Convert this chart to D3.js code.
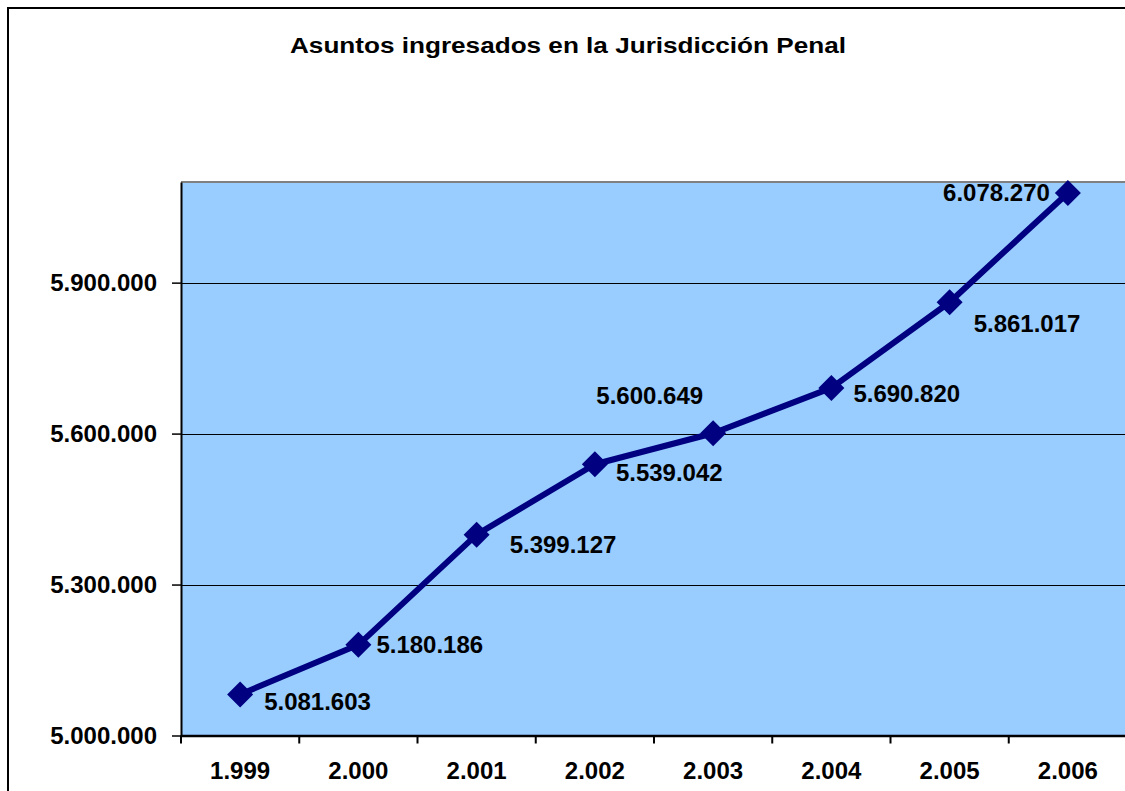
<!DOCTYPE html>
<html>
<head>
<meta charset="utf-8">
<script src="https://cdn.jsdelivr.net/npm/d3@7"></script>
<style>
  html, body { margin: 0; padding: 0; background: #fff; }
  svg { display: block; }
  text { font-family: "Liberation Sans", Arial, sans-serif; font-weight: bold; fill: #000; }
</style>
</head>
<body>
<svg id="chart" width="1125" height="791"></svg>
<script>
// ---- data ----
const title = "Asuntos ingresados en la Jurisdicción Penal";
const categories = ["1.999", "2.000", "2.001", "2.002", "2.003", "2.004", "2.005", "2.006"];
const values = [5081603, 5180186, 5399127, 5539042, 5600649, 5690820, 5861017, 6078270];
const yTicks = [5000000, 5300000, 5600000, 5900000];
const yDomain = [5000000, 6100000];
// label placement relative to each point: [dx, dy, anchor]
const labelPlacement = [
  [24, 7, "start"], [18, 0, "start"], [33, 10, "start"], [21, 8, "start"],
  [-10, -38, "end"], [22, 5, "start"], [24, 21, "start"], [-18, -1, "end"]
];

// ---- layout ----
const svg = d3.select("#chart");
const plot = { left: 181, top: 182, right: 1127, bottom: 735.5 };

const x = d3.scaleBand().domain(categories).range([plot.left, plot.right]).padding(0);
const y = d3.scaleLinear().domain(yDomain).range([plot.bottom, plot.top]);
const loc = d3.formatLocale({ decimal: ",", thousands: ".", grouping: [3], currency: ["", ""] });
const fmt = loc.format(",");

// outer border
svg.append("rect").attr("x", 8).attr("y", 8).attr("width", 1140).attr("height", 800)
  .attr("fill", "#fff").attr("stroke", "#000").attr("stroke-width", 2);

// title
svg.append("text").attr("x", 290).attr("y", 53).attr("text-anchor", "start")
  .attr("textLength", 556).attr("lengthAdjust", "spacingAndGlyphs")
  .style("font-size", "22px").text(title);

// plot background
svg.append("rect").attr("x", plot.left).attr("y", plot.top)
  .attr("width", plot.right - plot.left).attr("height", plot.bottom - plot.top)
  .attr("fill", "#99CCFF");

// top border (grey)
svg.append("line").attr("x1", plot.left).attr("x2", plot.right)
  .attr("y1", y(yDomain[1])).attr("y2", y(yDomain[1]))
  .attr("stroke", "#808080").attr("stroke-width", 2);

// gridlines
svg.append("g").selectAll("line").data(yTicks.slice(1)).join("line")
  .attr("x1", plot.left).attr("x2", plot.right)
  .attr("y1", d => Math.round(y(d)) + 0.5).attr("y2", d => Math.round(y(d)) + 0.5)
  .attr("stroke", "#000").attr("stroke-width", 1.2);

// y axis
const yAxis = svg.append("g").attr("transform", `translate(${plot.left},0)`)
  .call(d3.axisLeft(y).tickValues(yTicks).tickFormat(fmt).tickSize(9).tickPadding(15).tickSizeOuter(0));
yAxis.select(".domain").attr("stroke", "#000").attr("stroke-width", 2);
yAxis.selectAll(".tick line").attr("stroke", "#000").attr("stroke-width", 1.5);
yAxis.selectAll(".tick text").style("font-size", "24px")
  .attr("fill", "#000").attr("font-family", null);

// x axis
const xAxis = svg.append("g").attr("transform", `translate(0,${plot.bottom})`)
  .call(d3.axisBottom(x).tickSize(0).tickPadding(26).tickSizeOuter(0));
xAxis.select(".domain").attr("stroke", "#000").attr("stroke-width", 2.5);
xAxis.selectAll(".tick text").style("font-size", "24px")
  .attr("fill", "#000").attr("font-family", null);
xAxis.selectAll(".tick line").remove();
// tick marks at band boundaries
const edges = categories.map(c => x(c)).concat([x(categories[categories.length - 1]) + x.bandwidth()]);
xAxis.append("g").selectAll("line").data(edges).join("line")
  .attr("x1", d => d).attr("x2", d => d).attr("y1", 0).attr("y2", 8)
  .attr("stroke", "#000").attr("stroke-width", 2);

// line
const cx = c => x(c) + x.bandwidth() / 2;
const pts = categories.map((c, i) => [cx(c), y(values[i])]);
svg.append("path").datum(pts)
  .attr("d", d3.line())
  .attr("fill", "none").attr("stroke", "#000080").attr("stroke-width", 6)
  .attr("stroke-linejoin", "round");

// markers (diamonds)
const r = 13;
svg.append("g").selectAll("path").data(pts).join("path")
  .attr("d", d => `M${d[0]},${d[1] - r}L${d[0] + r},${d[1]}L${d[0]},${d[1] + r}L${d[0] - r},${d[1]}Z`)
  .attr("fill", "#000080");

// data labels
svg.append("g").selectAll("text").data(pts).join("text")
  .attr("x", (d, i) => d[0] + labelPlacement[i][0])
  .attr("y", (d, i) => d[1] + labelPlacement[i][1])
  .attr("dy", "0.36em")
  .attr("text-anchor", (d, i) => labelPlacement[i][2])
  .style("font-size", "24px")
  .text((d, i) => fmt(values[i]));
</script>
</body>
</html>
